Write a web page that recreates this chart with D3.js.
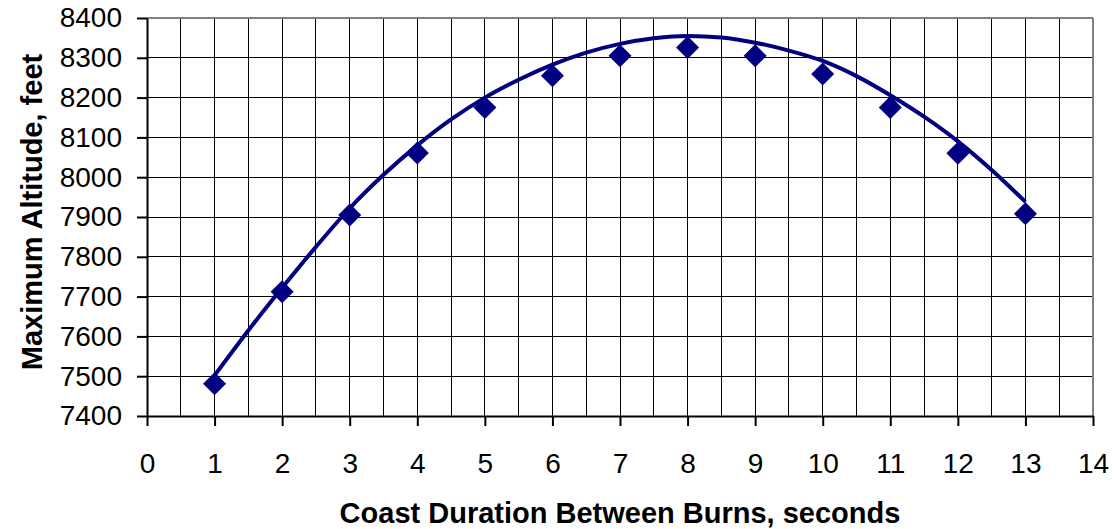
<!DOCTYPE html>
<html>
<head>
<meta charset="utf-8">
<script src="https://cdn.jsdelivr.net/npm/d3@7/dist/d3.min.js"></script>
<style>
  html, body { margin: 0; padding: 0; background: #fff; }
  svg { display: block; }
  text { font-family: "Liberation Sans", Arial, sans-serif; fill: #000; }
</style>
</head>
<body>
<svg id="chart" width="1115" height="529"></svg>
<script>
// Observed data points (diamonds)
const coastSeconds = [1, 2, 3, 4, 5, 6, 7, 8, 9, 10, 11, 12, 13];
const maxAltitude = [7481, 7712, 7905, 8061, 8175, 8255, 8305, 8326, 8305, 8259, 8175, 8060, 7908];

// Trendline
const trendX = [1, 1.5, 2, 2.5, 3, 3.5, 4, 4.5, 5, 5.5, 6, 6.5, 7, 7.5, 8, 8.5, 9, 9.5, 10, 10.5, 11, 11.5, 12, 12.5, 13];
const trendY = [7502, 7615, 7722, 7825, 7922, 8006, 8080, 8145, 8200, 8245, 8283, 8313, 8335, 8349, 8355, 8351, 8338, 8318, 8292, 8254, 8206, 8152, 8090, 8018, 7938];

// Tick labels
const xTicks = [0, 1, 2, 3, 4, 5, 6, 7, 8, 9, 10, 11, 12, 13, 14];
const yTicks = [7400, 7500, 7600, 7700, 7800, 7900, 8000, 8100, 8200, 8300, 8400];
const xGrid = d3.range(0, 14.01, 0.5);

const xTitle = "Coast Duration Between Burns, seconds";
const yTitle = "Maximum Altitude, feet";

const svg = d3.select("#chart");
const L = 147, R = 1093, T = 18, B = 416;
const x = d3.scaleLinear().domain([0, 14]).range([L, R]);
const y = d3.scaleLinear().domain([7400, 8400]).range([B, T]);
const navy = "#000080";

// grid
const g = svg.append("g");
g.selectAll("line.vg").data(xGrid.filter(v => v > 0 && v < 14)).enter().append("line")
  .attr("x1", d => x(d)).attr("x2", d => x(d)).attr("y1", T).attr("y2", B)
  .attr("stroke", "#000").attr("stroke-width", 1).attr("shape-rendering", "crispEdges");
g.selectAll("line.hg").data(yTicks.filter(v => v > 7400 && v < 8400)).enter().append("line")
  .attr("x1", L).attr("x2", R).attr("y1", d => y(d)).attr("y2", d => y(d))
  .attr("stroke", "#000").attr("stroke-width", 1).attr("shape-rendering", "crispEdges");

// frame top/right gray
svg.append("line").attr("x1", L).attr("x2", R).attr("y1", T).attr("y2", T)
  .attr("stroke", "#808080").attr("stroke-width", 2);
svg.append("line").attr("x1", R).attr("x2", R).attr("y1", T).attr("y2", B)
  .attr("stroke", "#808080").attr("stroke-width", 2);

// axes
const fmt = d3.format("d");
const xAxis = d3.axisBottom(x).tickValues(xTicks).tickFormat(fmt).tickSize(10).tickPadding(27).tickSizeOuter(0);
const yAxis = d3.axisLeft(y).tickValues(yTicks).tickFormat(fmt).tickSize(10).tickPadding(15).tickSizeOuter(0);
const gx = svg.append("g").attr("transform", `translate(0,${B})`).call(xAxis);
const gy = svg.append("g").attr("transform", `translate(${L},0)`).call(yAxis);
[gx, gy].forEach(a => {
  a.attr("font-size", 28).attr("font-family", "Liberation Sans, Arial, sans-serif");
  a.select(".domain").attr("stroke", "#000").attr("stroke-width", 2);
  a.selectAll(".tick line").attr("stroke", "#000").attr("stroke-width", 2);
  a.selectAll(".tick text").attr("fill", "#000");
});

// trend line
const pts = trendX.map((v, i) => [v, trendY[i]]);
svg.append("path").datum(pts)
  .attr("fill", "none").attr("stroke", navy).attr("stroke-width", 4)
  .attr("d", d3.line().x(d => x(d[0])).y(d => y(d[1])).curve(d3.curveMonotoneX));

// diamonds
const s = 11.5;
svg.selectAll("path.pt").data(coastSeconds.map((v, i) => [v, maxAltitude[i]])).enter().append("path")
  .attr("fill", navy)
  .attr("d", d => {
    const cx = x(d[0]), cy = y(d[1]);
    return `M${cx},${cy - s}L${cx + s},${cy}L${cx},${cy + s}L${cx - s},${cy}Z`;
  });

// titles
svg.append("text").attr("x", (L + R) / 2).attr("y", 523).attr("text-anchor", "middle")
  .attr("font-size", 29).attr("font-weight", "bold").text(xTitle);
svg.append("text").attr("transform", `translate(42,212) rotate(-90)`).attr("text-anchor", "middle")
  .attr("font-size", 29).attr("font-weight", "bold").text(yTitle);
</script>
</body>
</html>
